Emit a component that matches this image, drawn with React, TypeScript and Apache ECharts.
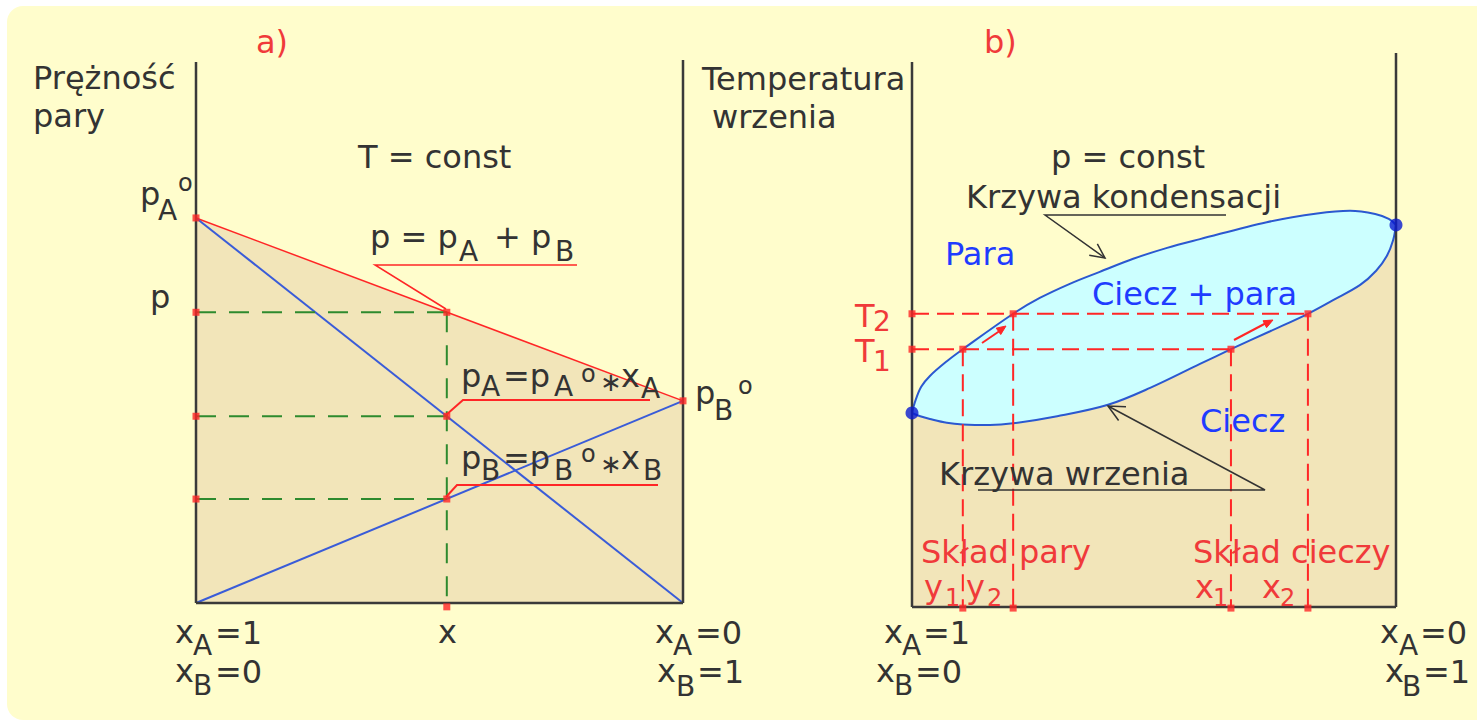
import React, { useEffect, useRef } from "react";
import * as echarts from "echarts";

// ---- Panel a: vapour pressure over an ideal solution, T = const ----
// x axis: mole fraction of B (0 at the left, 1 at the right)
const xPoint = 0.515;
const pA0 = 100;
const pB0 = 52.5;
const pAatX = 48.5;
const pBatX = 27.0;
const pAtX = 75.5;
const aTop = 140.5; // top of the pressure axis
const aFrameLeftTop = 140.5;
const aFrameRightTop = 141.0;

// ---- Panel b: boiling-point diagram, p = const ----
// condensation (dew) curve: upper edge of the two-phase lens
const dewCurve: number[][] = [
  [0, 35.6], [0.006, 37.6], [0.019, 40.4], [0.037, 42.4], [0.072, 45.1],
  [0.105, 47.3], [0.209, 53.8], [0.264, 56.7], [0.326, 59.3], [0.388, 61.5],
  [0.457, 63.9], [0.527, 65.9], [0.595, 67.5], [0.733, 70.6], [0.837, 72.2],
  [0.905, 72.7], [0.957, 72.1], [0.985, 71.2], [1, 70.1],
];
// boiling (bubble) curve: lower edge of the lens
const bubbleCurve: number[][] = [
  [0, 35.6], [0.017, 35.0], [0.037, 34.5], [0.072, 33.8], [0.105, 33.5],
  [0.161, 33.4], [0.209, 33.7], [0.3, 35.0], [0.405, 37.1], [0.492, 40.2],
  [0.595, 44.6], [0.659, 47.3], [0.74, 50.6], [0.818, 53.8], [0.87, 56.3],
  [0.926, 59.1], [0.959, 61.7], [0.981, 64.4], [0.994, 67.3], [1, 70.1],
];
const T1 = 47.3;
const T2 = 53.8;
const y1 = 0.105;
const y2 = 0.209;
const x1 = 0.659;
const x2 = 0.818;
const bTop = 100;
const bFrameRightTop = 101.65;

// ---- colours ----
const DARK = "#333333";
const FRAME = "#3a3a3a";
const RED = "#ff2626";
const RED_TXT = "#f03a3a";
const GREEN = "#2e8a2e";
const BLUE_LINE = "#3a5cd8";
const LENS = "#2b58d0";
const BLUE_TXT = "#1f3cff";
const BLUE_DOT = "#0a1ad0";
const TAN = "#f2e5b9";
const CYAN = "#ccffff";

const FONT = '"DejaVu Sans", Verdana, sans-serif';
const M = 32;
const S = 28;

// text placed by its left edge and alphabetic baseline
function T(x: number, base: number, s: string, size = M, color = DARK) {
  return {
    type: "text",
    x,
    y: base - 0.346 * size,
    z: 100,
    silent: true,
    style: {
      text: s,
      fill: color,
      fontSize: size,
      fontFamily: FONT,
      align: "left",
      verticalAlign: "middle",
    },
  };
}
// small raised "o" (standard state), placed by the glyph centre
function SUP(x: number, yc: number, size = 24, color = DARK) {
  return T(x, yc + 0.273 * size, "o", size, color);
}
function poly(points: number[][], color: string, width: number) {
  return {
    type: "polyline",
    z: 100,
    silent: true,
    shape: { points },
    style: { stroke: color, lineWidth: width, fill: null },
  };
}
function head(fx: number, fy: number, tx: number, ty: number, len: number, color: string, width: number, filled = false) {
  const a = Math.atan2(ty - fy, tx - fx);
  const sp = filled ? 0.4 : 0.45;
  const p1 = [tx - len * Math.cos(a - sp), ty - len * Math.sin(a - sp)];
  const p2 = [tx - len * Math.cos(a + sp), ty - len * Math.sin(a + sp)];
  if (filled) {
    return {
      type: "polygon",
      z: 100,
      silent: true,
      shape: { points: [p1, [tx, ty], p2] },
      style: { fill: color, stroke: color, lineWidth: 1 },
    };
  }
  return poly([p1, [tx, ty], p2], color, width);
}

function lineSeries(data: number[][], g: number, color: string, width: number, dash?: number[], extra: any = {}) {
  return {
    type: "line",
    data,
    xAxisIndex: g,
    yAxisIndex: g,
    symbol: "none",
    showSymbol: false,
    silent: true,
    clip: false,
    lineStyle: { color, width, type: dash ?? "solid" },
    ...extra,
  };
}
function dots(data: number[][], g: number, color: string, size: number, symbol = "rect") {
  return {
    type: "scatter",
    data,
    xAxisIndex: g,
    yAxisIndex: g,
    symbol,
    symbolSize: size,
    silent: true,
    clip: false,
    z: 5,
    itemStyle: { color },
  };
}

const GREEN_DASH = [20, 13];
const RED_DASH = [17, 8];

export default function App() {
  const ref = useRef<HTMLDivElement>(null);

  useEffect(() => {
    if (!ref.current) return;
    const chart = echarts.init(ref.current, undefined, { renderer: "svg" });

    const lens = { smooth: 0.35 };

    const series: any[] = [
      // ---------- panel a ----------
      lineSeries([[0, pA0], [1, pB0]], 0, RED, 1.5, undefined, {
        areaStyle: { color: TAN, opacity: 1 },
      }),
      lineSeries([[0, pA0], [1, 0]], 0, BLUE_LINE, 2),
      lineSeries([[0, 0], [1, pB0]], 0, BLUE_LINE, 2),
      lineSeries([[0, pAtX], [xPoint, pAtX]], 0, GREEN, 2, GREEN_DASH),
      lineSeries([[0, pAatX], [xPoint, pAatX]], 0, GREEN, 2, GREEN_DASH),
      lineSeries([[0, pBatX], [xPoint, pBatX]], 0, GREEN, 2, GREEN_DASH),
      lineSeries([[xPoint, pAtX], [xPoint, 0]], 0, GREEN, 2, GREEN_DASH),
      lineSeries([[0, 0], [0, aFrameLeftTop]], 0, FRAME, 2.5),
      lineSeries([[1, 0], [1, aFrameRightTop]], 0, FRAME, 2.5),
      lineSeries([[0, 0], [1, 0]], 0, FRAME, 2.5),
      dots(
        [
          [0, pA0], [0, pAtX], [xPoint, pAtX], [0, pAatX], [xPoint, pAatX],
          [0, pBatX], [xPoint, pBatX], [1, pB0], [xPoint, -1],
        ],
        0, RED, 7
      ),

      // ---------- panel b ----------
      lineSeries(dewCurve, 1, LENS, 2, undefined, {
        ...lens,
        areaStyle: { color: CYAN, opacity: 1 },
      }),
      lineSeries(bubbleCurve, 1, LENS, 2, undefined, {
        ...lens,
        areaStyle: { color: TAN, opacity: 1 },
      }),
      lineSeries([[0, T2], [x2, T2]], 1, RED, 2, RED_DASH),
      lineSeries([[0, T1], [x1, T1]], 1, RED, 2, RED_DASH),
      lineSeries([[y1, T1], [y1, 0]], 1, RED, 2, RED_DASH),
      lineSeries([[y2, T2], [y2, 0]], 1, RED, 2, RED_DASH),
      lineSeries([[x1, T1], [x1, 0]], 1, RED, 2, RED_DASH),
      lineSeries([[x2, T2], [x2, 0]], 1, RED, 2, RED_DASH),
      lineSeries([[0, 0], [0, bTop]], 1, FRAME, 2.5),
      lineSeries([[1, 0], [1, bFrameRightTop]], 1, FRAME, 2.5),
      lineSeries([[0, 0], [1, 0]], 1, FRAME, 2.5),
      dots(
        [
          [0, T2], [y2, T2], [x2, T2], [0, T1], [y1, T1], [x1, T1],
          [y1, -0.2], [y2, -0.2], [x1, -0.2], [x2, -0.2],
        ],
        1, RED, 7
      ),
      dots([dewCurve[0], dewCurve[dewCurve.length - 1]], 1, BLUE_DOT, 13, "circle"),
    ];

    const graphic: any[] = [
      // ---------- panel a labels ----------
      T(256, 53, "a)", M, RED_TXT),
      T(33, 89, "Prężność"),
      T(33, 127, "pary"),
      T(358, 168, "T = const"),
      T(140, 205, "p"), T(158, 220, "A", S), SUP(178, 185),
      T(150, 308, "p"),
      T(370, 248, "p = p"), T(459, 261, "A", S), T(494, 248, "+ p"), T(555, 261, "B", S),
      T(461, 387, "p"), T(481, 396, "A", S), T(503, 387, "=p"), T(554, 396, "A", S),
      SUP(581, 376), T(600, 391, "∗", 26), T(621, 387, "x"), T(641, 398, "A", S),
      T(461, 469, "p"), T(481, 480, "B", S), T(503, 469, "=p"), T(554, 480, "B", S),
      SUP(581, 456), T(600, 473, "∗", 26), T(621, 469, "x"), T(643, 480, "B", S),
      T(695, 404, "p"), T(714, 420, "B", S), SUP(738, 388),
      T(175, 643, "x"), T(193, 655, "A", S), T(215, 644, "=1"),
      T(175, 682, "x"), T(193, 695, "B", S), T(215, 683, "=0"),
      T(438, 643, "x"),
      T(655, 643, "x"), T(673, 655, "A", S), T(695, 644, "=0"),
      T(657, 682, "x"), T(676, 696, "B", S), T(697, 683, "=1"),
      poly([[446, 309], [375, 265], [577, 265]], RED, 1.5),
      poly([[446, 415], [463, 400], [650, 400]], RED, 2),
      poly([[446, 497], [457, 485], [658, 485]], RED, 2),

      // ---------- panel b labels ----------
      T(984, 53, "b)", M, RED_TXT),
      T(702, 90, "Temperatura"),
      T(712, 128, "wrzenia"),
      T(1051, 168, "p = const"),
      T(966, 208, "Krzywa kondensacji"),
      T(945, 265, "Para", M, BLUE_TXT),
      T(1092, 305, "Ciecz + para", M, BLUE_TXT),
      T(855, 327, "T", M, RED_TXT), T(873, 331, "2", 28, RED_TXT),
      T(855, 362, "T", M, RED_TXT), T(873, 371, "1", 28, RED_TXT),
      T(1200, 432, "Ciecz", M, BLUE_TXT),
      T(939, 485, "Krzywa wrzenia"),
      T(921, 563, "Skład pary", M, RED_TXT),
      T(924, 598, "y", M, RED_TXT), T(945, 606, "1", 24, RED_TXT),
      T(966, 598, "y", M, RED_TXT), T(987, 606, "2", 24, RED_TXT),
      T(1193, 563, "Skład cieczy", M, RED_TXT),
      T(1195, 598, "x", M, RED_TXT), T(1213, 606, "1", 24, RED_TXT),
      T(1262, 598, "x", M, RED_TXT), T(1280, 606, "2", 24, RED_TXT),
      T(884, 643, "x"), T(902, 655, "A", S), T(923, 644, "=1"),
      T(876, 682, "x"), T(894, 695, "B", S), T(915, 683, "=0"),
      T(1380, 643, "x"), T(1399, 655, "A", S), T(1420, 644, "=0"),
      T(1385, 682, "x"), T(1402, 696, "B", S), T(1423, 683, "=1"),
      poly([[1226, 215], [1045, 215], [1105, 258]], DARK, 1.5),
      head(1045, 215, 1105, 258, 16, DARK, 1.5),
      poly([[978, 490], [1265, 490], [1108, 406]], DARK, 1.5),
      head(1265, 490, 1108, 406, 18, DARK, 1.5),
      poly([[982, 343], [1004, 328]], RED, 2),
      head(982, 343, 1006, 326, 10, RED, 1, true),
      poly([[1234, 340], [1270, 321]], RED, 2),
      head(1234, 340, 1273, 320, 10, RED, 1, true),
    ];

    chart.setOption({
      animation: false,
      backgroundColor: "transparent",
      grid: [
        { left: 196, top: 62, width: 487, height: 541 },
        { left: 912, top: 62, width: 484, height: 545 },
      ],
      xAxis: [
        { gridIndex: 0, type: "value", min: 0, max: 1, show: false },
        { gridIndex: 1, type: "value", min: 0, max: 1, show: false },
      ],
      yAxis: [
        { gridIndex: 0, type: "value", min: 0, max: aTop, show: false },
        { gridIndex: 1, type: "value", min: 0, max: bTop, show: false },
      ],
      series,
      graphic,
    });

    return () => chart.dispose();
  }, []);

  return (
    <div
      style={{
        position: "fixed",
        left: 0,
        top: 0,
        width: 1477,
        height: 722,
        background: "#ffffff",
        overflow: "hidden",
      }}
    >
      <div
        style={{
          position: "absolute",
          left: 7,
          top: 6,
          width: 1492,
          height: 714,
          borderRadius: 16,
          background: "#fffdcc",
        }}
      />
      <div ref={ref} style={{ position: "absolute", left: 0, top: 0, width: 1477, height: 722 }} />
    </div>
  );
}
